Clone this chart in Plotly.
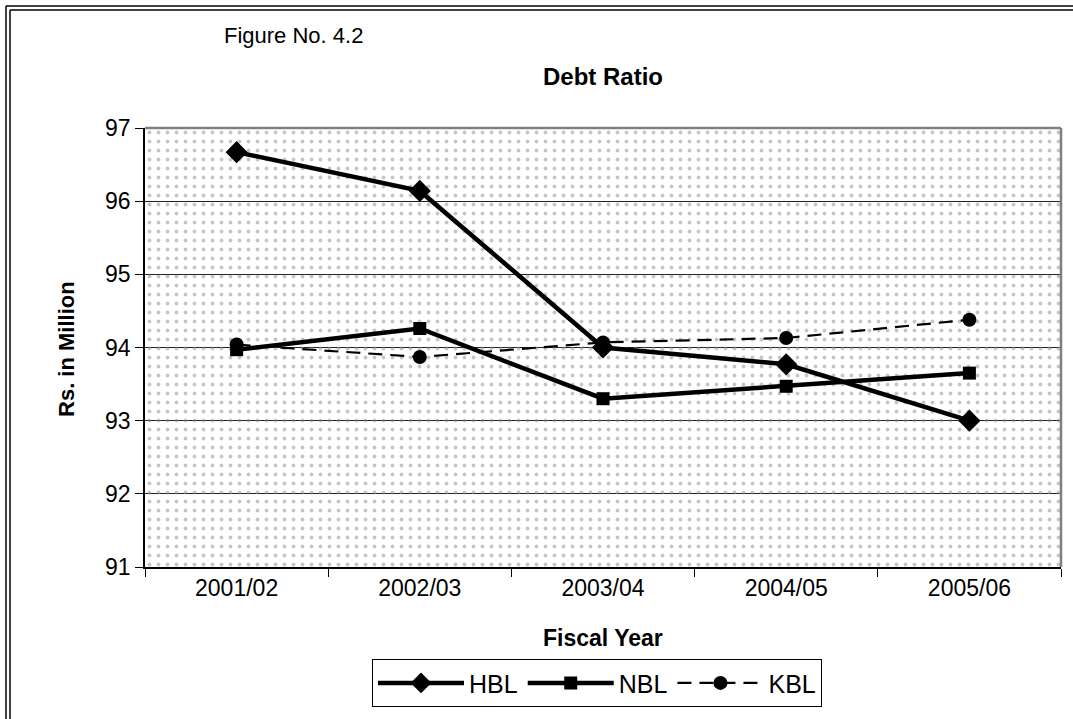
import plotly.graph_objects as go

years = ["2001/02", "2002/03", "2003/04", "2004/05", "2005/06"]
hbl = [96.67, 96.14, 94.00, 93.77, 93.00]
nbl = [93.97, 94.26, 93.30, 93.47, 93.65]
kbl = [94.04, 93.87, 94.07, 94.13, 94.38]
y_ticks = [91, 92, 93, 94, 95, 96, 97]

FONT = "Liberation Sans, Arial, sans-serif"
W, H = 1073, 719
L, R, T, B = 145, 1061, 128, 571  # plot area in px

def px(x):
    return (x - L) / (R - L)

def py(y):
    return (B - y) / (B - T)

fig = go.Figure()

# patterned plot background (decoration) on hidden base axes
fig.add_trace(go.Scatter(
    x=[0, 1, 1, 0, 0], y=[0, 0, 1, 1, 0], mode="none", fill="toself",
    fillcolor="rgba(0,0,0,0)",
    fillpattern=dict(shape=".", fgcolor="#8c8c8c", bgcolor="rgba(0,0,0,0)",
                     size=9, solidity=0.14, fillmode="overlay"),
    hoverinfo="skip", showlegend=False, xaxis="x", yaxis="y"))

fig.add_trace(go.Scatter(
    x=years, y=hbl, name="HBL", mode="lines+markers",
    line=dict(color="black", width=4.5),
    marker=dict(symbol="diamond", size=17, color="black"),
    xaxis="x2", yaxis="y2"))
fig.add_trace(go.Scatter(
    x=years, y=nbl, name="NBL", mode="lines+markers",
    line=dict(color="black", width=4.5),
    marker=dict(symbol="square", size=13, color="black"),
    xaxis="x2", yaxis="y2"))
fig.add_trace(go.Scatter(
    x=years, y=kbl, name="KBL", mode="lines+markers",
    line=dict(color="black", width=2.2, dash="14px,8px"),
    marker=dict(symbol="circle", size=14, color="black"),
    xaxis="x2", yaxis="y2"))

shapes = [
    # plot frame top/right in grey
    dict(type="line", xref="paper", yref="paper", x0=0, x1=1, y0=1, y1=1,
         line=dict(color="#808080", width=2.5)),
    dict(type="line", xref="paper", yref="paper", x0=1, x1=1, y0=0, y1=1,
         line=dict(color="#808080", width=2.5)),
]
# outer double frame: only left and top edges are inside the picture
for off in (6, 10):
    shapes.append(dict(type="line", xref="paper", yref="paper",
                       x0=px(off), x1=px(off), y0=py(off - 1), y1=py(725),
                       line=dict(color="black", width=1.5)))
    shapes.append(dict(type="line", xref="paper", yref="paper",
                       x0=px(off), x1=px(1080), y0=py(off - 1), y1=py(off - 1),
                       line=dict(color="black", width=1.5)))

annotations = [
    dict(text="Figure No. 4.2", x=px(293), y=py(35), xref="paper", yref="paper",
         showarrow=False, font=dict(family=FONT, size=22, color="black"),
         xanchor="center", yanchor="middle"),
    dict(text="<b>Debt Ratio</b>", x=0.5, y=py(76), xref="paper", yref="paper",
         showarrow=False, font=dict(family=FONT, size=24, color="black"),
         xanchor="center", yanchor="middle"),
    dict(text="<b>Fiscal Year</b>", x=0.5, y=py(643), xref="paper", yref="paper",
         showarrow=False, font=dict(family=FONT, size=23, color="black"),
         xanchor="center", yanchor="middle"),
    dict(text="<b>Rs. in Million</b>", x=px(67), y=py(351), xref="paper", yref="paper",
         showarrow=False, textangle=-90, font=dict(family=FONT, size=22, color="black"),
         xanchor="center", yanchor="middle"),
]

fig.update_layout(
    width=W, height=H,
    margin=dict(l=L, r=W - R, t=T, b=H - B),
    paper_bgcolor="white", plot_bgcolor="white",
    font=dict(family=FONT, size=23, color="black"),
    showlegend=True,
    legend=dict(orientation="h", x=px(372), y=py(664), xanchor="left", yanchor="top",
                bordercolor="black", borderwidth=1, bgcolor="white",
                font=dict(family=FONT, size=25, color="black"),
                itemwidth=86, tracegroupgap=0),
    xaxis=dict(range=[0, 1], visible=False, fixedrange=True),
    yaxis=dict(range=[0, 1], visible=False, fixedrange=True),
    xaxis2=dict(overlaying="x", anchor="y2", side="bottom", type="category",
                range=[-0.5, 4.5], tickson="boundaries", ticks="outside",
                ticklen=8, tickcolor="black", tickwidth=1,
                showline=True, linecolor="black", linewidth=1.5,
                showgrid=False, tickfont=dict(family=FONT, size=23)),
    yaxis2=dict(overlaying="y", anchor="x2", side="left", range=[91, 97],
                tickvals=y_ticks, ticks="outside", ticklen=8, tickcolor="black",
                showline=True, linecolor="black", linewidth=1.5,
                showgrid=True, gridcolor="#222222", gridwidth=1,
                zeroline=False, tickfont=dict(family=FONT, size=23)),
    shapes=shapes, annotations=annotations,
)

fig.write_html("out.html")
